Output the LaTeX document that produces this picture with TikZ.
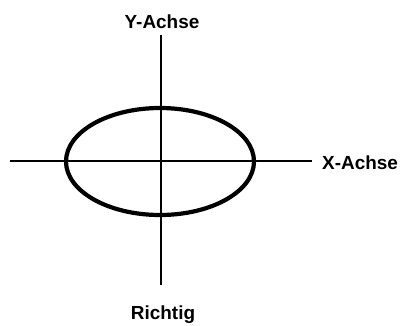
\documentclass[tikz,border=0pt]{standalone}
\usepackage{fontspec}
\setmainfont{Liberation Sans}
\usetikzlibrary{shapes.geometric}
\begin{document}
\begin{tikzpicture}[x=1bp,y=-1bp,
  axis/.style={line width=2bp, black},
  curve/.style={line width=4.2bp, black},
  lab/.style={font=\fontsize{19}{22}\selectfont\bfseries, inner sep=0pt}]
\useasboundingbox (0,0) rectangle (412,326);
\coordinate (yt) at (160.5,35);
\coordinate (yb) at (160.5,285);
\coordinate (xl) at (10,161);
\coordinate (xr) at (312,161);
\draw[axis] (yt) -- (yb);
\draw[axis] (xl) -- (xr);
\node[curve, draw, ellipse, minimum width=188bp, minimum height=107bp, inner sep=0pt] (ell) at (160,161.5) {};
\node[lab] (ylab) at (162,21.5) {Y-Achse};
\node[lab, anchor=west] (xlab) at (322,163) {X-Achse};
\node[lab] (rlab) at (163,315) {Richtig};
\end{tikzpicture}
\end{document}
